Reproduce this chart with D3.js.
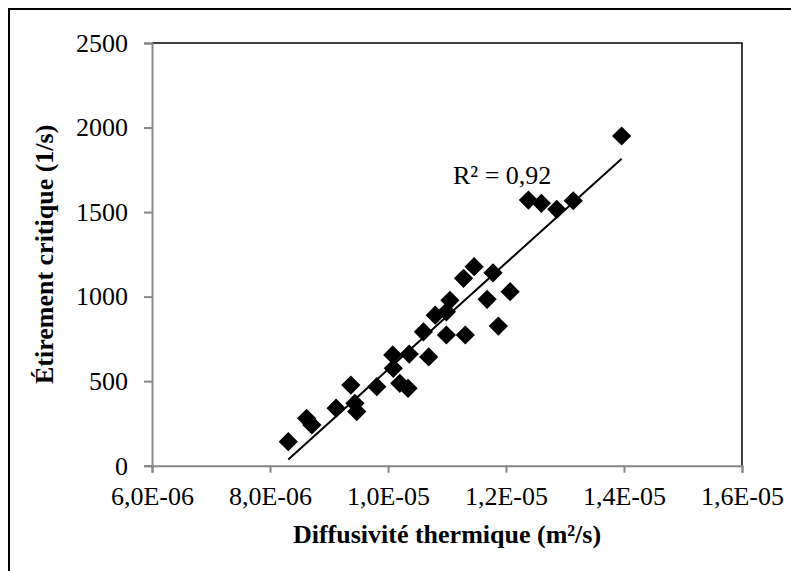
<!DOCTYPE html>
<html>
<head>
<meta charset="utf-8">
<script src="https://cdn.jsdelivr.net/npm/d3@7"></script>
<style>
  html, body { margin: 0; padding: 0; background: #fff; }
  svg { display: block; }
  text { font-family: "Liberation Serif", "Times New Roman", serif; fill: #000; }
</style>
</head>
<body>
<svg id="chart" width="791" height="571"></svg>
<script>
// Thermal diffusivity (m²/s) and critical strain rate (1/s) per sample
const diffusivity = [
  8.31e-6, 8.62e-6, 8.71e-6, 9.12e-6, 9.37e-6, 9.44e-6, 9.47e-6, 9.81e-6,
  10.08e-6, 10.09e-6, 10.20e-6, 10.34e-6, 10.36e-6, 10.69e-6, 10.60e-6, 10.99e-6,
  11.31e-6, 10.80e-6, 10.99e-6, 11.05e-6, 11.28e-6, 11.46e-6, 11.78e-6, 11.68e-6,
  12.07e-6, 11.87e-6, 12.38e-6, 12.60e-6, 12.86e-6, 13.14e-6, 13.96e-6
];
const strainRate = [
  142, 280, 241, 340, 477, 369, 320, 467,
  655, 576, 487, 458, 660, 643, 792, 773,
  773, 890, 910, 978, 1108, 1177, 1141, 984,
  1029, 826, 1571, 1552, 1516, 1567, 1950
];
const xTicks = [6e-6, 8e-6, 1.0e-5, 1.2e-5, 1.4e-5, 1.6e-5];
const xTickLabels = ["6,0E-06", "8,0E-06", "1,0E-05", "1,2E-05", "1,4E-05", "1,6E-05"];
const yTicks = [0, 500, 1000, 1500, 2000, 2500];
const r2Label = "R² = 0,92";

const svg = d3.select("#chart");
const plot = { left: 152, right: 742, top: 43, bottom: 465.7 };
const fontSize = 26;

const x = d3.scaleLinear().domain([6e-6, 1.6e-5]).range([plot.left, plot.right]);
const y = d3.scaleLinear().domain([0, 2500]).range([plot.bottom, plot.top]);

// Chart frame
svg.append("rect")
  .attr("x", 9).attr("y", 9).attr("width", 800).attr("height", 600)
  .attr("fill", "none").attr("stroke", "#000").attr("stroke-width", 2);

// Plot area border (top and right)
svg.append("path")
  .attr("d", `M${plot.left},${plot.top}H${plot.right}V${plot.bottom}`)
  .attr("fill", "none").attr("stroke", "#000").attr("stroke-width", 1.5);

// Axes
const axisColor = "#878787";
const xAxis = svg.append("g")
  .attr("transform", `translate(0,${plot.bottom})`)
  .call(d3.axisBottom(x).tickValues(xTicks).tickFormat((d, i) => xTickLabels[i]).tickSizeOuter(0).tickSize(7).tickPadding(14));
const yAxis = svg.append("g")
  .attr("transform", `translate(${plot.left},0)`)
  .call(d3.axisLeft(y).tickValues(yTicks).tickFormat(d3.format("d")).tickSizeOuter(0).tickSize(8).tickPadding(16));

[xAxis, yAxis].forEach(g => {
  g.select(".domain").attr("stroke", axisColor).attr("stroke-width", 2);
  g.selectAll(".tick line").attr("stroke", axisColor).attr("stroke-width", 2);
  g.selectAll(".tick text")
    .attr("font-family", "'Liberation Serif', 'Times New Roman', serif")
    .attr("font-size", fontSize).attr("fill", "#000");
});

// Least-squares trend line over the data range
const n = diffusivity.length;
const mx = d3.mean(diffusivity), my = d3.mean(strainRate);
let sxy = 0, sxx = 0;
for (let i = 0; i < n; i++) {
  sxy += (diffusivity[i] - mx) * (strainRate[i] - my);
  sxx += (diffusivity[i] - mx) ** 2;
}
const slope = sxy / sxx, intercept = my - slope * mx;
const [x0, x1] = d3.extent(diffusivity);
svg.append("line")
  .attr("x1", x(x0)).attr("y1", y(intercept + slope * x0))
  .attr("x2", x(x1)).attr("y2", y(intercept + slope * x1))
  .attr("stroke", "#000").attr("stroke-width", 2);

// Data points as diamonds
const diamond = d3.symbol().type(d3.symbolSquare).size(185);
svg.append("g").selectAll("path")
  .data(diffusivity.map((d, i) => [d, strainRate[i]]))
  .join("path")
  .attr("d", diamond)
  .attr("transform", d => `translate(${x(d[0])},${y(d[1])}) rotate(45)`)
  .attr("fill", "#000");

// Coefficient of determination
svg.append("text")
  .attr("x", 453).attr("y", 184)
  .attr("font-size", fontSize)
  .text(r2Label);

// Axis titles
svg.append("text")
  .attr("x", (plot.left + plot.right) / 2).attr("y", 543)
  .attr("text-anchor", "middle").attr("font-size", fontSize).attr("font-weight", "bold")
  .text("Diffusivité thermique (m²/s)");

svg.append("text")
  .attr("transform", `translate(53,${(plot.top + plot.bottom) / 2}) rotate(-90)`)
  .attr("text-anchor", "middle").attr("font-size", fontSize).attr("font-weight", "bold")
  .text("Étirement critique (1/s)");
</script>
</body>
</html>
